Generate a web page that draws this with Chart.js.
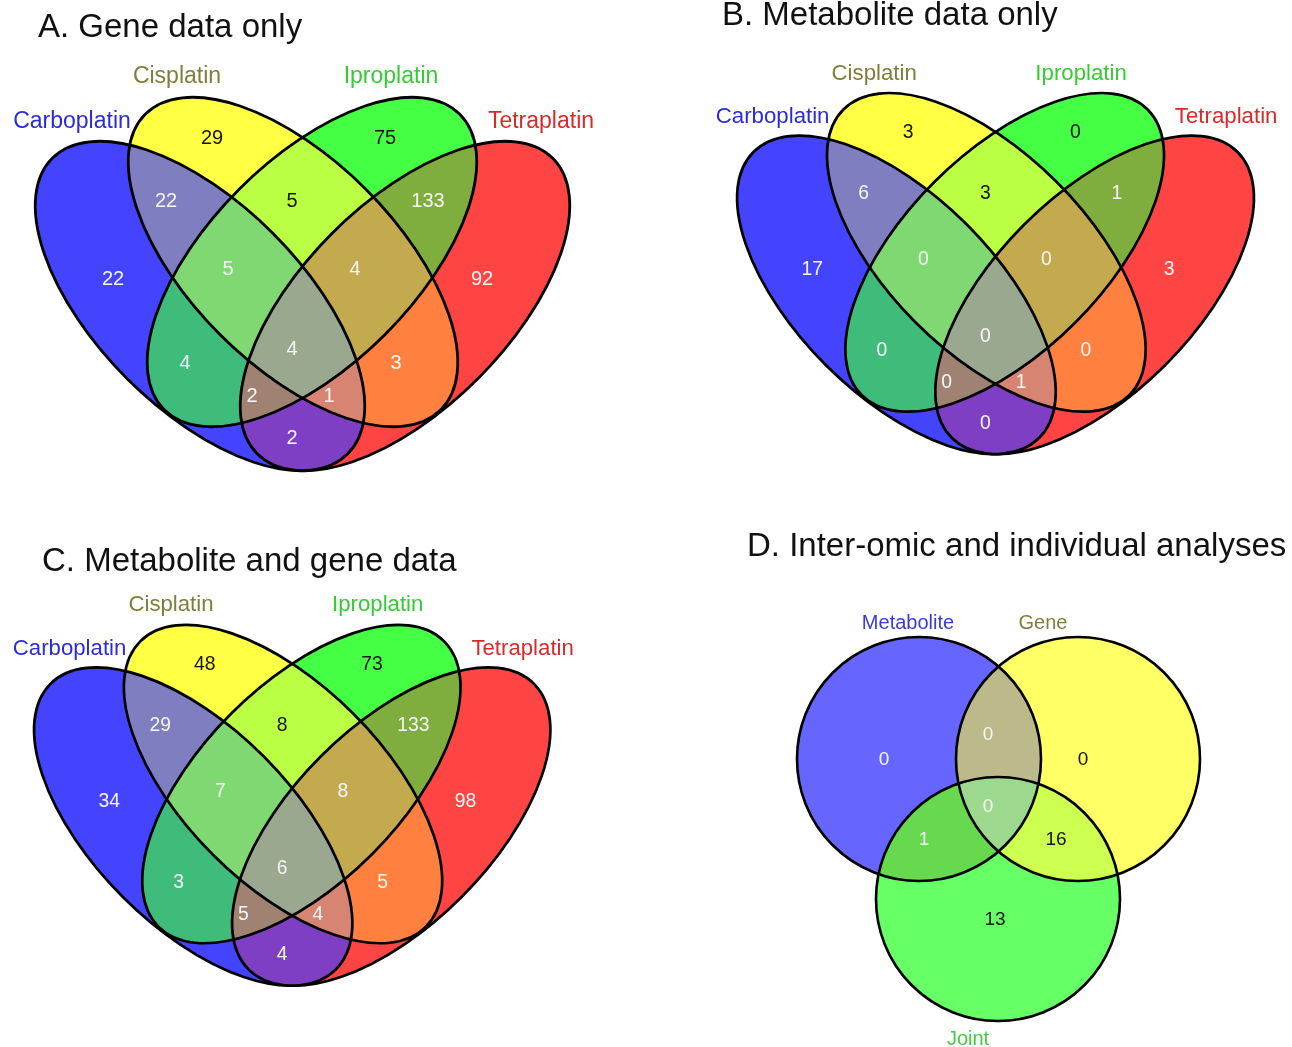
<!DOCTYPE html>
<html>
<head>
<meta charset="utf-8">
<script src="https://cdn.jsdelivr.net/npm/chart.js@4.4.0/dist/chart.umd.min.js"></script>
<style>
html,body{margin:0;padding:0;background:#ffffff;width:1292px;height:1047px;overflow:hidden;}
canvas{position:absolute;}
</style>
</head>
<body>
<canvas id="cA"></canvas>
<canvas id="cB"></canvas>
<canvas id="cC"></canvas>
<canvas id="cD"></canvas>
<script>
// ================= DATA =================
const panelTitles = ["A. Gene data only", "B. Metabolite data only", "C. Metabolite and gene data", "D. Inter-omic and individual analyses"];

const drugSets = ["Carboplatin", "Cisplatin", "Iproplatin", "Tetraplatin"];
const drugRegions = [
  "Carboplatin", "Cisplatin", "Iproplatin", "Tetraplatin",
  "Carboplatin∩Cisplatin", "Cisplatin∩Iproplatin", "Iproplatin∩Tetraplatin",
  "Carboplatin∩Iproplatin", "Cisplatin∩Tetraplatin", "Carboplatin∩Tetraplatin",
  "Carboplatin∩Cisplatin∩Iproplatin", "Cisplatin∩Iproplatin∩Tetraplatin",
  "Carboplatin∩Iproplatin∩Tetraplatin", "Carboplatin∩Cisplatin∩Tetraplatin",
  "All four"
];
const geneCounts       = [22, 29, 75, 92, 22, 5, 133, 4, 3, 2, 5, 4, 2, 1, 4];
const metaboliteCounts = [17, 3, 0, 3, 6, 3, 1, 0, 0, 0, 0, 0, 0, 1, 0];
const combinedCounts   = [34, 48, 73, 98, 29, 8, 133, 3, 5, 4, 7, 8, 5, 4, 6];

const analysisSets = ["Metabolite", "Gene", "Joint"];
const analysisRegions = ["Metabolite", "Gene", "Joint", "Metabolite∩Gene", "Metabolite∩Joint", "Gene∩Joint", "All three"];
const analysisCounts = [0, 0, 13, 0, 1, 16, 0];

// ================= LAYOUT / STYLE =================
const FONT = '"Liberation Sans", Arial, Helvetica, sans-serif';
// set membership bit masks for each region (same order as the count arrays)
const drugMasks = [1, 2, 4, 8, 3, 6, 12, 5, 10, 9, 7, 14, 13, 11, 15];
const analysisMasks = [1, 2, 4, 3, 5, 6, 7];

// four-ellipse geometry in panel units (panel A = 1 px per unit)
const drugShapes = [
  {cx: 200, cy: 306, rx: 209, ry: 103, rot: 45},
  {cx: 293, cy: 262, rx: 209, ry: 103, rot: 45},
  {cx: 312, cy: 262, rx: 209, ry: 103, rot: -45},
  {cx: 405, cy: 306, rx: 209, ry: 103, rot: -45}
];
const drugCountPos = [[113,278],[212,137],[385,137],[482,278],[166,200],[292,200],[428,200],
  [185,362],[396,362],[292,437],[228,268],[355,268],[252,395],[329,395],[292,348]];
const drugSetLabelPos = [[72,120],[177,75],[391,75],[541,120]];
const drugSetColors = ["#2b2bd8", "#7f7f3a", "#33cc33", "#d62b2b"];
const drugFill = {
  1:"#4444ff", 2:"#ffff44", 4:"#44ff44", 8:"#ff4444",
  3:"#7e7ec0", 6:"#bbff44", 12:"#7fae3f", 5:"#3fbb7a", 10:"#ff803f", 9:"#7f3fc4",
  7:"#80d873", 14:"#c4aa4f", 13:"#a08272", 11:"#d88473", 15:"#9aa890"
};
const drugDarkText = [2, 4, 6];

const analysisShapes = [
  {cx: 919, cy: 759, rx: 122, ry: 122, rot: 0},
  {cx: 1078, cy: 759, rx: 122, ry: 122, rot: 0},
  {cx: 998, cy: 899, rx: 122, ry: 122, rot: 0}
];
const analysisCountPos = [[884,758],[1083,758],[995,918],[988,733],[924,838],[1056,838],[988,805]];
const analysisSetLabelPos = [[908,622],[1043,622],[968,1038]];
const analysisSetColors = ["#3a3ad8", "#7f7f40", "#44cc44"];
const analysisFill = {1:"#6666ff", 2:"#ffff66", 4:"#66ff66", 3:"#bcb98b", 5:"#66d94f", 6:"#ccff4f", 7:"#9cd98f"};
const analysisDarkText = [2, 4, 6];

// ================= PLUGIN =================
const vennPlugin = {
  id: 'venn',
  beforeDatasetsDraw(chart, args, o) {
    const ctx = chart.ctx, xs = chart.scales.x, ys = chart.scales.y;
    const px = v => xs.getPixelForValue(v), py = v => ys.getPixelForValue(v);
    const k = px(1) - px(0);
    const W = chart.width, H = chart.height;
    const sh = o.shapes.map(s => ({x: px(s.cx), y: py(s.cy), rx: s.rx * k, ry: s.ry * k, rot: s.rot * Math.PI / 180}));
    const path = s => ctx.ellipse(s.x, s.y, s.rx, s.ry, s.rot, 0, Math.PI * 2);
    ctx.save();
    ctx.fillStyle = '#ffffff';
    ctx.fillRect(0, 0, W, H);
    o.masks.forEach(m => {
      ctx.save();
      sh.forEach((s, j) => {
        ctx.beginPath();
        if (m & (1 << j)) { path(s); ctx.clip(); }
        else { ctx.rect(-10, -10, W + 20, H + 20); path(s); ctx.clip('evenodd'); }
      });
      ctx.fillStyle = o.fill[m];
      ctx.fillRect(0, 0, W, H);
      ctx.restore();
    });
    ctx.strokeStyle = '#000000';
    ctx.lineWidth = o.lineWidth * k;
    sh.forEach(s => { ctx.beginPath(); path(s); ctx.stroke(); });
    // set labels
    ctx.textAlign = 'center';
    ctx.textBaseline = 'alphabetic';
    const ls = o.labelSize * k;
    ctx.font = ls + 'px ' + FONT;
    o.setNames.forEach((n, i) => {
      ctx.fillStyle = o.setColors[i];
      ctx.fillText(n, px(o.setPos[i][0]), py(o.setPos[i][1]) + 0.36 * ls);
    });
    // title
    ctx.textAlign = 'left';
    ctx.fillStyle = '#111111';
    ctx.font = o.titleSize + 'px ' + FONT;
    ctx.fillText(o.title, px(o.titlePos[0]), py(o.titlePos[1]));
    ctx.restore();
  },
  afterDatasetsDraw(chart, args, o) {
    const ctx = chart.ctx, xs = chart.scales.x;
    const k = xs.getPixelForValue(1) - xs.getPixelForValue(0);
    const fs = o.countSize * k;
    const meta = chart.getDatasetMeta(0);
    ctx.save();
    ctx.font = fs + 'px ' + FONT;
    ctx.textAlign = 'center';
    ctx.textBaseline = 'alphabetic';
    meta.data.forEach((pt, i) => {
      ctx.fillStyle = o.darkText.includes(o.masks[i]) ? '#151515' : '#f6f6f6';
      ctx.fillText(String(o.counts[i]), pt.x, pt.y + 0.36 * fs);
    });
    ctx.restore();
  }
};

function makePanel(id, p) {
  const cv = document.getElementById(id);
  const w = Math.round(p.unitW * p.scale), h = Math.round(p.unitH * p.scale);
  cv.width = w; cv.height = h;
  cv.style.left = p.left + 'px'; cv.style.top = p.top + 'px';
  cv.style.width = w + 'px'; cv.style.height = h + 'px';
  const xmin = p.x0, ymin = p.y0;
  const pts = p.countPos.map(q => ({x: q[0], y: q[1]}));
  // title given in page coordinates -> panel units
  const tpos = [(p.titlePage[0] - p.left) / p.scale + xmin, (p.titlePage[1] - p.top) / p.scale + ymin];
  return new Chart(cv, {
    type: 'scatter',
    data: {datasets: [{data: pts, pointRadius: 0, pointHoverRadius: 0, showLine: false}]},
    options: {
      responsive: false, animation: false, devicePixelRatio: 1,
      layout: {padding: 0}, events: [],
      scales: {
        x: {type: 'linear', display: false, min: xmin, max: xmin + w / p.scale},
        y: {type: 'linear', display: false, min: ymin, max: ymin + h / p.scale, reverse: true}
      },
      plugins: {
        legend: {display: false}, tooltip: {enabled: false},
        venn: {
          shapes: p.shapes, masks: p.masks, fill: p.fill, counts: p.counts, darkText: p.darkText,
          setNames: p.setNames, setPos: p.setPos, setColors: p.setColors,
          labelSize: p.labelSize, countSize: p.countSize, lineWidth: p.lineWidth,
          title: p.title, titleSize: p.titleSize, titlePos: tpos
        }
      }
    },
    plugins: [vennPlugin]
  });
}

const quadCommon = {
  unitW: 640, unitH: 500, x0: 0, y0: 0,
  shapes: drugShapes, masks: drugMasks, fill: drugFill, darkText: drugDarkText,
  countPos: drugCountPos, setNames: drugSets, setPos: drugSetLabelPos, setColors: drugSetColors,
  labelSize: 23, countSize: 20, lineWidth: 2.8
};
makePanel('cA', Object.assign({}, quadCommon, {left: 0, top: 0, scale: 1, counts: geneCounts,
  title: panelTitles[0], titleSize: 33, titlePage: [38, 37]}));
makePanel('cB', Object.assign({}, quadCommon, {left: 703, top: -1, scale: 0.967, counts: metaboliteCounts,
  title: panelTitles[1], titleSize: 33, titlePage: [722, 25]}));
makePanel('cC', Object.assign({}, quadCommon, {left: 0, top: 531, scale: 0.966, counts: combinedCounts,
  title: panelTitles[2], titleSize: 33, titlePage: [42, 571]}));
makePanel('cD', {
  unitW: 592, unitH: 547, x0: 700, y0: 500, left: 700, top: 500, scale: 1,
  shapes: analysisShapes, masks: analysisMasks, fill: analysisFill, darkText: analysisDarkText,
  countPos: analysisCountPos, counts: analysisCounts, setNames: analysisSets, setPos: analysisSetLabelPos,
  setColors: analysisSetColors, labelSize: 20, countSize: 19, lineWidth: 2.6,
  title: panelTitles[3], titleSize: 33, titlePage: [747, 556]
});
</script>
</body>
</html>
